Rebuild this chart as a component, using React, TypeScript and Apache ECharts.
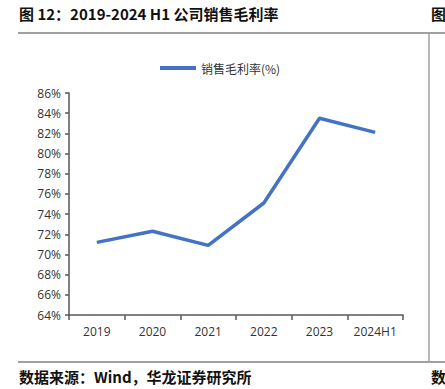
import React, { useEffect, useRef } from "react";
import * as echarts from "echarts";

const categories = ["2019", "2020", "2021", "2022", "2023", "2024H1"];
const grossMargin = [71.2, 72.3, 70.9, 75.1, 83.5, 82.1];
const seriesName = "销售毛利率(%)";
const titleText = "图 12：2019-2024 H1 公司销售毛利率";
const sourceText = "数据来源：Wind，华龙证券研究所";

export default function App() {
  const ref = useRef<HTMLDivElement>(null);
  useEffect(() => {
    if (!ref.current) return;
    const chart = echarts.init(ref.current, null, { renderer: "svg" });
    const cjk = "'Noto Sans CJK SC', 'Noto Sans', sans-serif";
    chart.setOption({
      animation: false,
      backgroundColor: "#ffffff",
      grid: { left: 69, top: 93, right: 42, bottom: 74 },
      legend: {
        show: true,
        top: 57,
        left: 155,
        itemWidth: 36,
        itemHeight: 4,
        icon: "rect",
        itemGap: 6,
        textStyle: { fontFamily: cjk, fontSize: 12, color: "#333" },
        data: [{ name: seriesName, icon: "rect" }],
      },
      xAxis: {
        type: "category",
        data: categories,
        boundaryGap: true,
        axisLine: { show: true, lineStyle: { color: "#595959", width: 1.5 } },
        axisTick: { show: true, length: 5, interval: 0, alignWithLabel: false, lineStyle: { color: "#595959", width: 1.5 } },
        axisLabel: { interval: 0, margin: 10, fontSize: 12, color: "#333", fontFamily: "'Open Sans', 'Noto Sans', sans-serif" },
      },
      yAxis: {
        type: "value",
        min: 64,
        max: 86,
        interval: 2,
        axisLine: { show: true, lineStyle: { color: "#595959", width: 1.5 } },
        axisTick: { show: true, length: 4, lineStyle: { color: "#595959", width: 1.5 } },
        splitLine: { show: false },
        axisLabel: {
          margin: 8,
          fontSize: 12,
          color: "#333",
          fontFamily: "'Open Sans', 'Noto Sans', sans-serif",
          formatter: (v: number) => v + "%",
        },
      },
      series: [
        {
          name: seriesName,
          type: "line",
          data: grossMargin,
          symbol: "none",
          lineStyle: { color: "#4472C4", width: 3.5 },
          itemStyle: { color: "#4472C4" },
        },
      ],
      graphic: [
        {
          type: "text",
          left: 19,
          top: 6,
          style: { text: titleText, fontFamily: cjk, fontSize: 15, fontWeight: "bold", fill: "#111" },
        },
        {
          type: "text",
          left: 431,
          top: 6,
          style: { text: "图", fontFamily: cjk, fontSize: 15, fontWeight: "bold", fill: "#111" },
        },
        {
          type: "line",
          shape: { x1: 18, y1: 33, x2: 445, y2: 33 },
          style: { stroke: "#a0a0a0", lineWidth: 2 },
        },
        {
          type: "line",
          shape: { x1: 429, y1: 33, x2: 429, y2: 362 },
          style: { stroke: "#a0a0a0", lineWidth: 1.5 },
        },
        {
          type: "line",
          shape: { x1: 18, y1: 362, x2: 445, y2: 362 },
          style: { stroke: "#a0a0a0", lineWidth: 2 },
        },
        {
          type: "text",
          left: 19,
          top: 369,
          style: { text: sourceText, fontFamily: cjk, fontSize: 15, fontWeight: "bold", fill: "#111" },
        },
        {
          type: "text",
          left: 431,
          top: 369,
          style: { text: "数", fontFamily: cjk, fontSize: 15, fontWeight: "bold", fill: "#111" },
        },
      ],
    });
    return () => chart.dispose();
  }, []);
  return (
    <div style={{ position: "fixed", left: 0, top: 0, width: 445, height: 389, background: "#fff" }}>
      <div ref={ref} style={{ width: 445, height: 389 }} />
    </div>
  );
}
